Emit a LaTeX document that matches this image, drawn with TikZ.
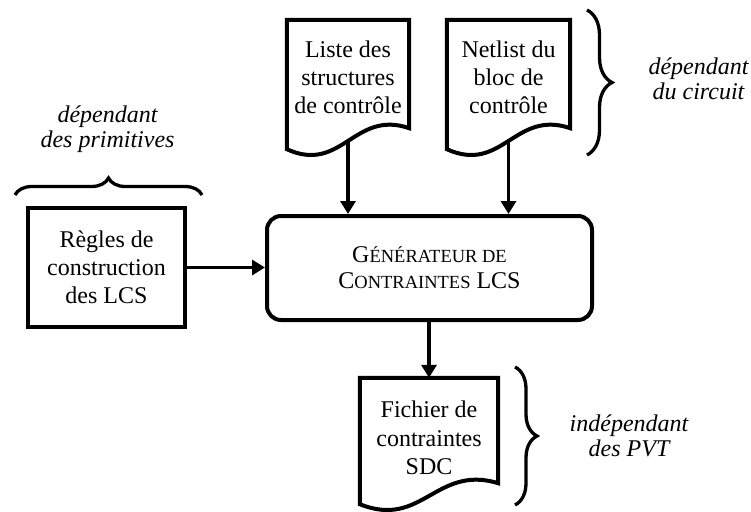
\documentclass[tikz,border=0pt]{standalone}
\usepackage{fontspec}
\setmainfont{Liberation Serif}
\usetikzlibrary{arrows.meta,decorations.pathreplacing,calc}
\newcommand\fsc[1]{{\fontsize{18.5}{26}\selectfont #1}}
\newcommand\docpath[2]{%
  \draw[docline] (#1.north west) -- (#1.north east)
    -- ($(#1.south east)+(0,#2-21)$)
    .. controls ($(#1.south west)!0.55!(#1.south east)+(0,#2-40)$)
           and ($(#1.south west)!0.45!(#1.south east)+(0,#2+25)$) ..
    ($(#1.south west)+(0,#2)$) coordinate[pos=0.5] (#1-b) -- cycle;}
\tikzset{
  box/.style={draw, line width=4pt, align=center, inner sep=0pt,
    font=\fontsize{24}{28}\selectfont},
  doc/.style={align=center, inner sep=0pt, font=\fontsize{24}{28}\selectfont},
  docline/.style={draw, line width=4pt, line join=miter},
  arr/.style={line width=3.3pt, -{Triangle[length=13pt,width=15pt]}},
  brc/.style={line width=3.3pt, decorate, decoration={brace, amplitude=#1}},
  note/.style={align=center, inner sep=0pt, font=\fontsize{24}{25}\selectfont\itshape},
}
\begin{document}
\begin{tikzpicture}[x=1pt,y=-1pt]
\useasboundingbox (0,0) rectangle (751,511);

% documents
\node[doc, minimum width=122pt, minimum height=114pt] (doc1) at (348,77)
  {Liste des\\structures\\de contrôle};
\docpath{doc1}{15}
\node[doc, minimum width=123pt, minimum height=114pt] (doc2) at (508.5,77)
  {Netlist du\\bloc de\\contrôle};
\docpath{doc2}{15}
\node[doc, minimum width=138pt, minimum height=120pt, font=\fontsize{24}{28.5}\selectfont] (sdc) at (429,438)
  {Fichier de\\contraintes\\SDC};
\docpath{sdc}{6}

% main generator
\node[box, rounded corners=14pt, minimum width=325pt, minimum height=104pt,
  font=\fontsize{24}{26}\selectfont] (main) at (429.5,268)
  {G\fsc{ÉNÉRATEUR DE}\\C\fsc{ONTRAINTES} LCS};

% rules box
\node[box, minimum width=157pt, minimum height=119pt] (rules) at (106.5,267.5)
  {Règles de\\construction\\des LCS};

% connectors
\draw[arr] (doc1-b) -- (doc1-b |- main.north);
\draw[arr] (doc2-b) -- (doc2-b |- main.north);
\draw[arr] (rules.east) -- (rules.east -| main.west);
\draw[arr] (sdc.north |- main.south) -- (sdc.north);

% braces
\coordinate (b1a) at (587,10);  \coordinate (b1b) at (587,155);
\coordinate (b2a) at (515,367); \coordinate (b2b) at (515,505);
\coordinate (b3a) at (15,195);  \coordinate (b3b) at (202,195);
\draw[brc=25pt] (b1a) -- (b1b);
\draw[brc=22pt] (b2a) -- (b2b);
\draw[brc=17pt] (b3a) -- (b3b);

% notes
\node[note] (n1) at (698.5,79.3) {dépendant\\du circuit};
\node[note] (n2) at (107.5,128.9) {dépendant\\des primitives};
\node[note] (n3) at (629,436.3) {indépendant\\des PVT};
\end{tikzpicture}
\end{document}
